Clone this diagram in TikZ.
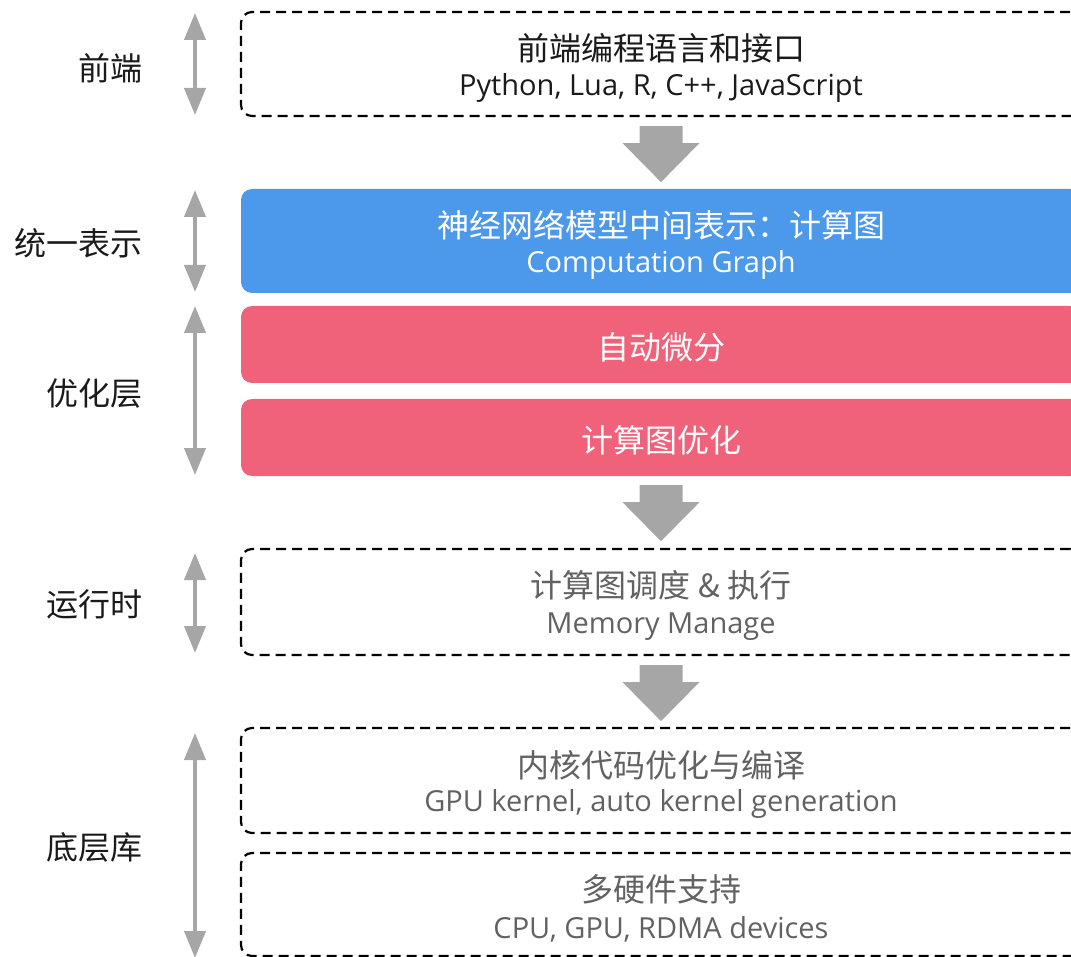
\documentclass[tikz,border=0pt]{standalone}
\usepackage{fontspec}
\setmainfont{Open Sans}
\newfontfamily\cjk{Noto Sans CJK SC}
\usetikzlibrary{arrows.meta,calc}
\definecolor{blu}{HTML}{4C98EB}
\definecolor{rd}{HTML}{F0627A}
\definecolor{arrgray}{HTML}{A6A6A6}
\definecolor{txtgray}{HTML}{626262}
\definecolor{txtblack}{HTML}{1A1A1A}
\tikzset{
  layerbox/.style={rounded corners=11pt, minimum width=840pt, inner sep=0pt},
  dashbox/.style={layerbox, draw=black, line width=2.2pt, dash pattern=on 10pt off 6pt},
  bluebox/.style={layerbox, fill=blu},
  redbox/.style={layerbox, fill=rd},
  cjktitle/.style={font=\cjk\fontsize{32}{38}\selectfont, inner sep=0pt},
  latinsub/.style={font=\fontsize{29}{34}\selectfont, inner sep=0pt},
  sidelabel/.style={font=\cjk\fontsize{32}{38}\selectfont, text=txtblack, anchor=east, inner sep=0pt},
  vdouble/.style={draw=arrgray, line width=4pt, {Triangle[width=21pt,length=27pt]}-{Triangle[width=21pt,length=27pt]}},
  blockarr/.style={fill=arrgray}
}
\newcommand\downblock[1]{%
  \fill[blockarr] ($(#1)+(-21.5,0)$) -- ($(#1)+(21.5,0)$) -- ($(#1)+(21.5,17)$) -- ($(#1)+(38.5,17)$)
    -- ($(#1)+(0,56)$) -- ($(#1)+(-38.5,17)$) -- ($(#1)+(-21.5,17)$) -- cycle;}
\begin{document}
\begin{tikzpicture}[x=1pt,y=-1pt]
\useasboundingbox (0,0) rectangle (1071,957);
\clip (0,0) rectangle (1071,957);

% boxes
\node[dashbox, minimum height=104pt] (b1) at (661,64) {};
\node[bluebox, minimum height=104pt] (b2) at (661,241) {};
\node[redbox, minimum height=77pt] (b3) at (661,344.5) {};
\node[redbox, minimum height=77pt] (b4) at (661,437.5) {};
\node[dashbox, minimum height=106pt] (b5) at (661,602) {};
\node[dashbox, minimum height=105pt] (b6) at (661,780.5) {};
\node[dashbox, minimum height=103pt] (b7) at (661,904.5) {};

% texts
\node[cjktitle, text=txtblack] (t1a) at (661,48) {前端编程语言和接口};
\node[latinsub, text=txtblack] (t1b) at (661,88) {Python, Lua, R, C++, JavaScript};
\node[cjktitle, text=white] (t2a) at (661,225) {神经网络模型中间表示：计算图};
\node[latinsub, text=white] (t2b) at (661,265) {Computation Graph};
\node[cjktitle, text=white] (t3) at (661,347) {自动微分};
\node[cjktitle, text=white] (t4) at (661,440) {计算图优化};
\node[cjktitle, text=txtgray] (t5a) at (661,585) {计算图调度 \& 执行};
\node[latinsub, text=txtgray] (t5b) at (661,627) {Memory Manage};
\node[cjktitle, text=txtgray] (t6a) at (661,765) {内核代码优化与编译};
\node[latinsub, text=txtgray] (t6b) at (661,804) {GPU kernel, auto kernel generation};
\node[cjktitle, text=txtgray] (t7a) at (661,889) {多硬件支持};
\node[latinsub, text=txtgray] (t7b) at (661,929) {CPU, GPU, RDMA devices};

% block arrows
\coordinate (k1) at ($(b1.south)+(0,9)$);
\coordinate (k2) at ($(b4.south)+(0,9)$);
\coordinate (k3) at ($(b5.south)+(0,9)$);
\downblock{k1}
\downblock{k2}
\downblock{k3}

% side labels
\node[sidelabel] (l1) at (143,68) {前端};
\node[sidelabel] (l2) at (143,243) {统一表示};
\node[sidelabel] (l3) at (143,393) {优化层};
\node[sidelabel] (l4) at (143,604) {运行时};
\node[sidelabel] (l5) at (143,847) {底层库};

% vertical double arrows
\coordinate (v1a) at (195,13);  \coordinate (v1b) at (195,115);
\coordinate (v2a) at (195,190); \coordinate (v2b) at (195,292);
\coordinate (v3a) at (195,306); \coordinate (v3b) at (195,475);
\coordinate (v4a) at (195,553); \coordinate (v4b) at (195,653);
\coordinate (v5a) at (195,733); \coordinate (v5b) at (195,958);
\draw[vdouble] (v1a) -- (v1b);
\draw[vdouble] (v2a) -- (v2b);
\draw[vdouble] (v3a) -- (v3b);
\draw[vdouble] (v4a) -- (v4b);
\draw[vdouble] (v5a) -- (v5b);
\end{tikzpicture}
\end{document}
